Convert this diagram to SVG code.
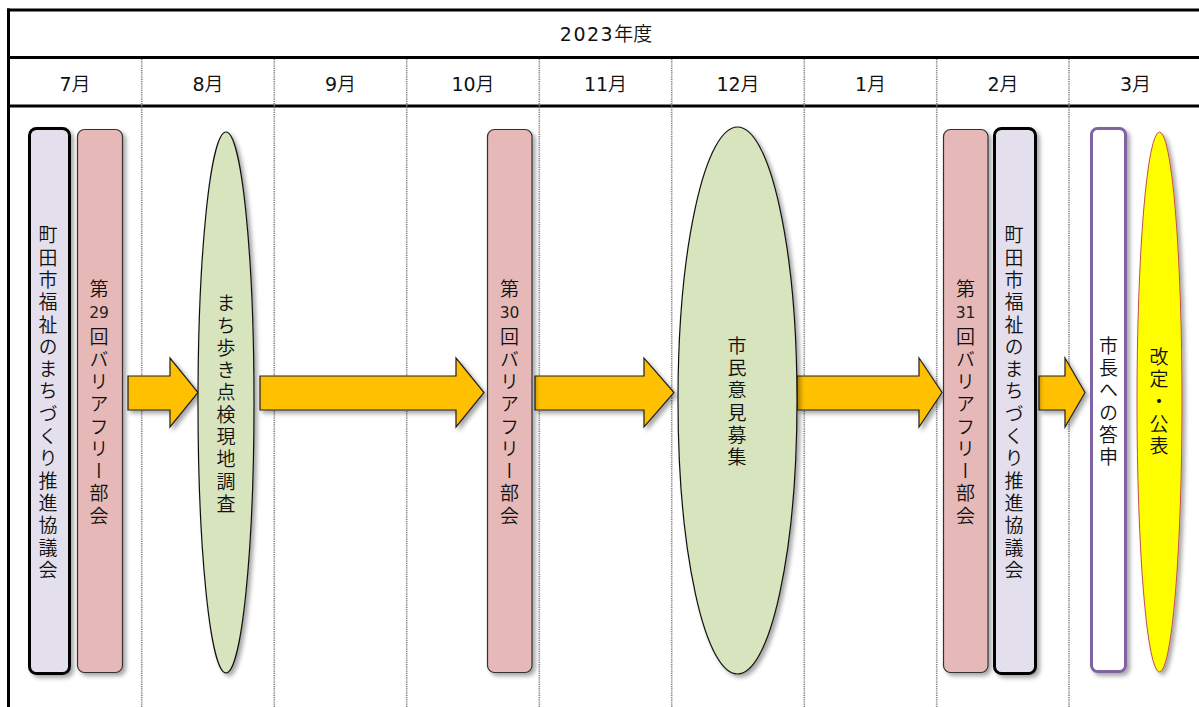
<svg xmlns="http://www.w3.org/2000/svg" width="1199" height="707" viewBox="0 0 1199 707">
<defs>
<filter id="sh" x="-50%" y="-10%" width="200%" height="120%">
<feDropShadow dx="3" dy="3" stdDeviation="2.2" flood-color="#000" flood-opacity="0.35"/>
</filter>
<style>
.grid{stroke:#000;stroke-width:3;fill:none}
.div{stroke:#808080;stroke-width:1.6;stroke-dasharray:1.2 1;fill:none}
.hd{font-family:"Noto Sans CJK JP",sans-serif;font-size:19px;font-weight:350;fill:#111;text-anchor:middle}
.d{font-family:"DejaVu Sans",sans-serif;font-weight:400;font-size:19px}
.vt{font-family:"Noto Sans CJK JP",sans-serif;font-size:19px;font-weight:350;fill:#111;writing-mode:vertical-rl;text-anchor:middle;letter-spacing:3.3px}
.ht{font-family:"Noto Sans CJK JP",sans-serif;font-size:19px;font-weight:350;fill:#111;text-anchor:middle}
.num{font-family:"DejaVu Sans",sans-serif;font-size:15.5px;font-weight:400;fill:#222;text-anchor:middle}
.lav{fill:#E4DFEC;stroke:#000;stroke-width:3}
.pink{fill:#E6B9B8;stroke:#333;stroke-width:1.2}
.green{fill:#D7E4BD;stroke:#111;stroke-width:1.2}
.arr{fill:#FFC000;stroke:#222;stroke-width:1.2}
</style>
</defs>
<rect width="1199" height="707" fill="#fff"/>
<g id="table">
<line class="grid" x1="7" y1="10" x2="1199" y2="10"/>
<line class="grid" x1="7" y1="57.5" x2="1199" y2="57.5"/>
<line class="grid" x1="7" y1="106" x2="1199" y2="106" stroke-width="2.5"/>
<line class="grid" x1="8.5" y1="8.5" x2="8.5" y2="707"/>
<line class="div" x1="141.7" y1="59" x2="141.7" y2="707"/>
<line class="div" x1="274.3" y1="59" x2="274.3" y2="707"/>
<line class="div" x1="406.7" y1="59" x2="406.7" y2="707"/>
<line class="div" x1="539.3" y1="59" x2="539.3" y2="707"/>
<line class="div" x1="671.7" y1="59" x2="671.7" y2="707"/>
<line class="div" x1="804.3" y1="59" x2="804.3" y2="707"/>
<line class="div" x1="936.7" y1="59" x2="936.7" y2="707"/>
<line class="div" x1="1069" y1="59" x2="1069" y2="707"/>
<text class="hd" x="606" y="41"><tspan class="d" letter-spacing="1.5">2023</tspan>年度</text>
<text class="hd" x="75" y="91"><tspan class="d">7</tspan>月</text>
<text class="hd" x="208" y="91"><tspan class="d">8</tspan>月</text>
<text class="hd" x="340.5" y="91"><tspan class="d">9</tspan>月</text>
<text class="hd" x="473" y="91"><tspan class="d">10</tspan>月</text>
<text class="hd" x="605.5" y="91"><tspan class="d">11</tspan>月</text>
<text class="hd" x="738" y="91"><tspan class="d">12</tspan>月</text>
<text class="hd" x="870.5" y="91"><tspan class="d">1</tspan>月</text>
<text class="hd" x="1003" y="91"><tspan class="d">2</tspan>月</text>
<text class="hd" x="1135.5" y="91"><tspan class="d">3</tspan>月</text>
</g>
<g id="connectors">
<path class="arr" filter="url(#sh)" d="M128,376 H170 V358 L198,392.5 L170,427 V410 H128 Z"/>
<path class="arr" filter="url(#sh)" d="M260,376 H456 V358 L484,392.5 L456,427 V410 H260 Z"/>
<path class="arr" filter="url(#sh)" d="M535,376 H644 V358 L674,392.5 L644,427 V410 H535 Z"/>
<path class="arr" filter="url(#sh)" d="M797,376 H919 V358 L942,392.5 L919,427 V410 H797 Z"/>
<path class="arr" filter="url(#sh)" d="M1039,376 H1065 V358 L1085,392.5 L1065,427 V410 H1039 Z"/>
</g>
<g id="node-council-1">
<rect class="lav" filter="url(#sh)" x="29.5" y="128.5" width="40" height="545" rx="7"/>
<text class="vt" x="48" y="404">町田市福祉のまちづくり推進協議会</text>
</g>
<g id="node-bf-29">
<rect class="pink" filter="url(#sh)" x="77.5" y="129.5" width="45" height="543" rx="7"/>
<text class="ht" x="99" y="296">第</text>
<text class="num" x="99" y="318">29</text>
<text class="vt" x="99" y="428">回バリアフリー部会</text>
</g>
<g id="node-walk">
<ellipse class="green" filter="url(#sh)" cx="226" cy="402.5" rx="28" ry="270.5"/>
<text class="vt" x="226" y="405">まち歩き点検現地調査</text>
</g>
<g id="node-bf-30">
<rect class="pink" filter="url(#sh)" x="487.5" y="129.5" width="44.5" height="543" rx="7"/>
<text class="ht" x="509.5" y="296">第</text>
<text class="num" x="509.5" y="318">30</text>
<text class="vt" x="509.5" y="428">回バリアフリー部会</text>
</g>
<g id="node-public">
<ellipse class="green" filter="url(#sh)" cx="737.5" cy="400.5" rx="59.5" ry="273.5"/>
<text class="vt" x="737" y="403">市民意見募集</text>
</g>
<g id="node-bf-31">
<rect class="pink" filter="url(#sh)" x="943.5" y="129.5" width="44.5" height="543" rx="7"/>
<text class="ht" x="965.5" y="296">第</text>
<text class="num" x="965.5" y="318">31</text>
<text class="vt" x="965.5" y="428">回バリアフリー部会</text>
</g>
<g id="node-council-2">
<rect class="lav" filter="url(#sh)" x="994.5" y="128.5" width="41" height="545" rx="7"/>
<text class="vt" x="1014" y="404">町田市福祉のまちづくり推進協議会</text>
</g>
<g id="node-report">
<rect filter="url(#sh)" x="1091.5" y="128.5" width="34" height="543" rx="6" fill="#fff" stroke="#8064A2" stroke-width="3"/>
<text class="vt" x="1108.5" y="403">市長への答申</text>
</g>
<g id="node-publish">
<ellipse filter="url(#sh)" cx="1159.5" cy="402" rx="22.5" ry="270" fill="#FFFF00" stroke="#C0504D" stroke-width="1"/>
<text class="vt" x="1159" y="403">改定・公表</text>
</g>
</svg>
